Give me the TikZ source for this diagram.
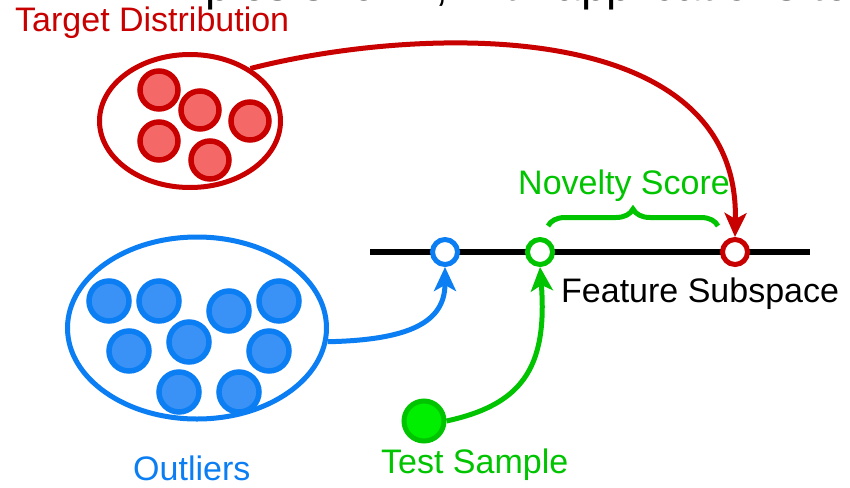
\documentclass[tikz,border=0pt]{standalone}
\usepackage{fontspec}
\setmainfont{Liberation Sans}
\usetikzlibrary{shapes.geometric,arrows.meta,decorations.pathreplacing}
\definecolor{rdark}{HTML}{C80000}
\definecolor{rfill}{HTML}{F56868}
\definecolor{bdark}{HTML}{0A7EF2}
\definecolor{bfill}{HTML}{3B92F6}
\definecolor{gdark}{HTML}{00C400}
\definecolor{gfill}{HTML}{00EE00}
\tikzset{
  lbl/.style={inner sep=0pt, font=\fontsize{34}{38}\selectfont},
  reddot/.style={circle, draw=rdark, fill=rfill, line width=5.5pt, minimum size=38pt, inner sep=0pt},
  bluedot/.style={circle, draw=bdark, fill=bfill, line width=5.5pt, minimum size=40pt, inner sep=0pt},
  ring/.style={circle, fill=white, line width=5pt, minimum size=25pt, inner sep=0pt},
  group/.style={ellipse, line width=5pt, inner sep=0pt},
  conn/.style={line width=5pt, -{Stealth[length=24pt,width=22pt,inset=6pt]}},
}
\begin{document}
\begin{tikzpicture}[x=1pt,y=-1pt]
\useasboundingbox (0,0) rectangle (850,487);
% cropped heading at the top
\begin{scope}
\clip (0,0) rectangle (850,487);
\node[inner sep=0pt, anchor=base east, font=\fontsize{46}{50}\selectfont] (head) at (850,1) {ples shown, with applications to};
\end{scope}
% groups
\node[group, draw=rdark, minimum width=181pt, minimum height=133pt] (tgt) at (190,121) {};
\node[group, draw=bdark, minimum width=259pt, minimum height=182pt] (out) at (197,328) {};
% red points
\node[reddot] (r1) at (159,90) {};
\node[reddot] (r2) at (200,110) {};
\node[reddot] (r3) at (250,121) {};
\node[reddot] (r4) at (159,141) {};
\node[reddot] (r5) at (210,160) {};
% blue points
\node[bluedot] (b1) at (109,301) {};
\node[bluedot] (b2) at (159,301) {};
\node[bluedot] (b3) at (229,311) {};
\node[bluedot] (b4) at (279,301) {};
\node[bluedot] (b5) at (129,351) {};
\node[bluedot] (b6) at (189,342) {};
\node[bluedot] (b7) at (269,351) {};
\node[bluedot] (b8) at (179,392) {};
\node[bluedot] (b9) at (239,392) {};
% feature axis
\coordinate (axL) at (370,252);
\coordinate (axR) at (810,252);
\draw[line width=6pt] (axL) -- (axR);
\node[ring, draw=bdark] (pb) at (445,252) {};
\node[ring, draw=gdark] (pg) at (540,252) {};
\node[ring, draw=rdark] (pr) at (735,252) {};
% test sample
\node[circle, draw=gdark, fill=gfill, line width=5pt, minimum size=40pt, inner sep=0pt] (test) at (424,421) {};
% brace
\coordinate (brL) at (548,226);
\coordinate (brR) at (718,226);
\draw[gdark, line width=5pt, decorate, decoration={brace, amplitude=17pt}] (brL) -- (brR);
% labels
\node[lbl, text=rdark, anchor=base west] (ltgt) at (15,32) {Target Distribution};
\node[lbl, text=gdark, anchor=base west] (lnov) at (518,194) {Novelty Score};
\node[lbl, anchor=base west] (lfeat) at (561,302) {Feature Subspace};
\node[lbl, text=bdark, anchor=base west] (lout) at (133,480) {Outliers};
\node[lbl, text=gdark, anchor=base west] (ltest) at (381,473) {Test Sample};
% connectors
\draw[conn, rdark] (tgt.41) .. controls (420,25) and (740,15) .. (pr.north);
\draw[conn, bdark] (out.-6) .. controls (410,340) and (445,322) .. (pb.south);
\draw[conn, gdark] (test.east) .. controls (520,405) and (548,370) .. (pg.south);
\end{tikzpicture}
\end{document}
